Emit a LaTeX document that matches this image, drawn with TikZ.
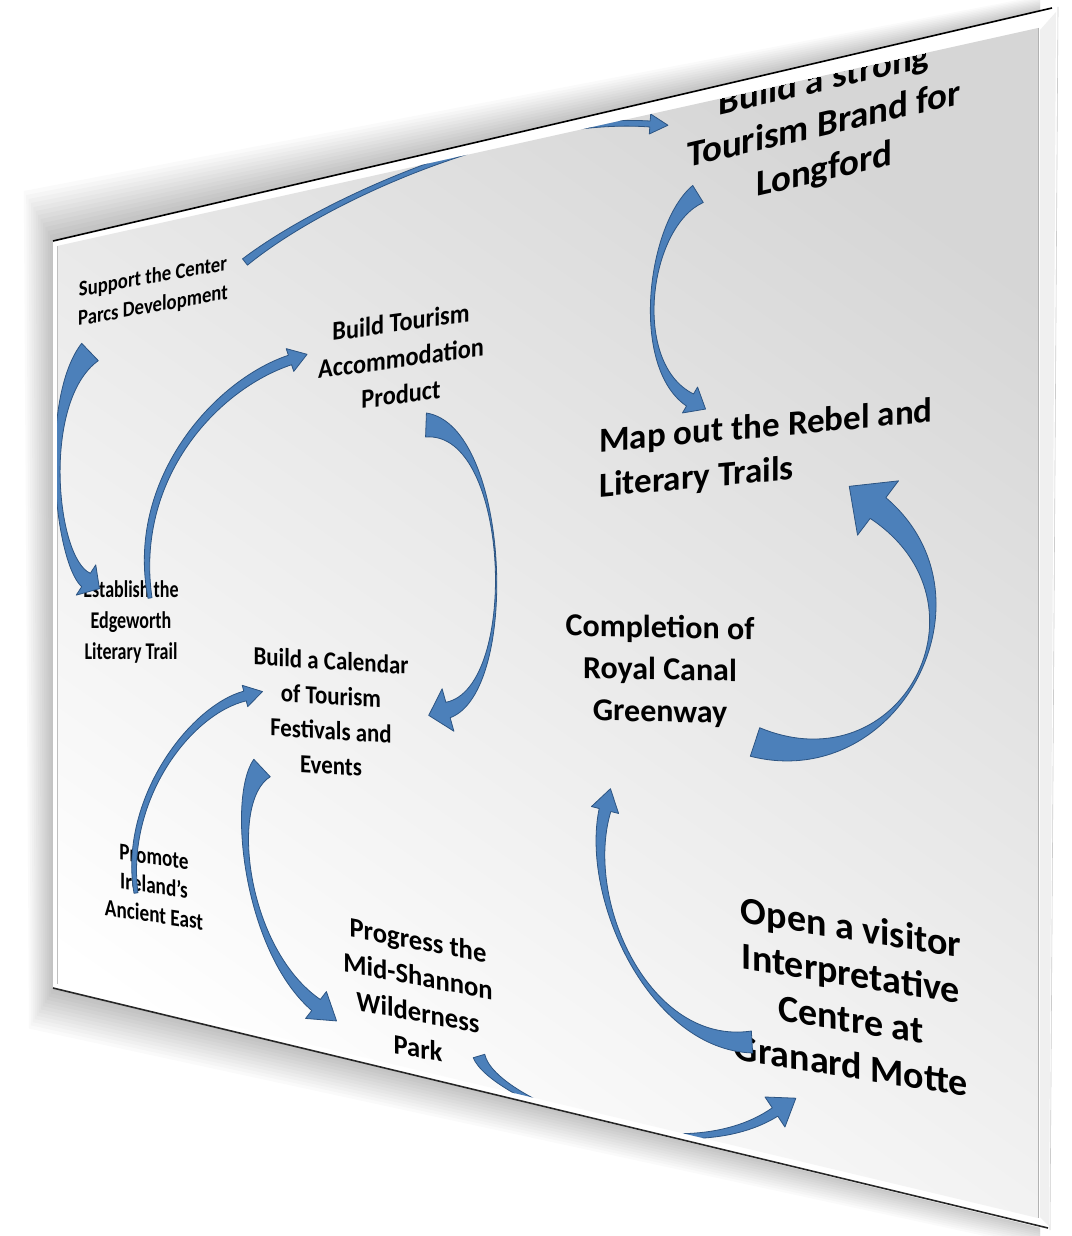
\documentclass[tikz,border=0pt]{standalone}
\usepackage{fontspec}
\setmainfont{Carlito}
\usetikzlibrary{calc}
\definecolor{arrowfill}{HTML}{4C80BA}
\definecolor{arrowline}{HTML}{2C5482}
\definecolor{slidegray}{HTML}{D6D6D6}
\definecolor{slidemid}{HTML}{E3E3E3}
\tikzset{
  lbl/.style={align=center, text=black, inner sep=0pt},
  blockarrow/.style={fill=arrowfill, draw=arrowline, line width=0.8pt, line join=round},
}
\newcommand{\bluearrow}[9]{%
  \path[blockarrow]
    ($(#1)!#5!90:(#2)$)
    .. controls ($(#2)!#6!-90:(#1)$) and ($(#3)!#6!90:(#4)$) ..
    ($(#4)!#7!-90:(#3)$) -- ($(#4)!#8!-90:(#3)$) -- ($(#4)!-#9!(#3)$)
    -- ($(#4)!#8!90:(#3)$) -- ($(#4)!#7!90:(#3)$)
    .. controls ($(#3)!#6!-90:(#4)$) and ($(#2)!#6!90:(#1)$) ..
    ($(#1)!#5!-90:(#2)$) -- cycle;}
\begin{document}
\begin{tikzpicture}[x=1pt,y=-1pt]
\useasboundingbox (0,0) rectangle (1071,1236);
\fill[white] (0,0) rectangle (1071,1236);
% shadow
\foreach \d in {52,48,...,0}{
  \fill[black,opacity=0.02] ({55-0.6*\d},{243-\d}) -- (1040,{14-0.35*\d}) -- (1040,{1222+0.5*\d}) -- ({55-0.5*\d},{987+0.8*\d}) -- cycle;
}
% frame
\fill[white] (53,241) -- (1058,7) -- (1050,1230) -- (53,988) -- cycle;
\fill[black!6] (1040,30) -- (1056,12) -- (1049,1226) -- (1040,1217) -- cycle;
\shade[top color=slidegray, middle color=slidemid, bottom color=white, shading angle=-35]
  (57,246) -- (1038,28) -- (1038,1218) -- (57,984) -- cycle;
\draw[black, line width=1.6pt] (53,241) -- (1052,8);
\draw[black!85, line width=1.6pt] (53,988) -- (1048,1228);
\draw[gray!60, line width=0.6pt] (1038,28) -- (1038,1218);
\draw[gray!40, line width=0.6pt] (1058,7) -- (1050,1230);
\draw[gray!50, line width=0.6pt] (57,246) -- (57,984);
\begin{scope}
\clip (57,246) -- (1038,28) -- (1038,1218) -- (57,984) -- cycle;
% labels
\node[lbl, yslant=0.18, xscale=0.85, font=\fontsize{22}{29}\selectfont\bfseries] (support) at (153,292) {Support the Center\\Parcs Development};
\node[lbl, yslant=0.23, font=\fontsize{37}{45}\selectfont\bfseries] (brand) at (824,126) {Build a strong\\Tourism Brand for\\Longford};
\node[lbl, yslant=0.14, xscale=0.9, font=\fontsize{27}{36}\selectfont\bfseries] (accom) at (401,358) {Build Tourism\\Accommodation\\Product};
\node[lbl, align=left, yslant=0.09, font=\fontsize{35}{45}\selectfont\bfseries] (rebel) at (766,450) {Map out the Rebel and\\Literary Trails};
\node[lbl, xscale=0.75, font=\fontsize{24}{31}\selectfont\bfseries] (edge) at (131,622) {Establish the\\Edgeworth\\Literary Trail};
\node[lbl, yslant=-0.02, font=\fontsize{32}{42}\selectfont\bfseries] (canal) at (660,671) {Completion of\\Royal Canal\\Greenway};
\node[lbl, yslant=-0.06, xscale=0.88, font=\fontsize{26}{35}\selectfont\bfseries] (calendar) at (331,713) {Build a Calendar\\of Tourism\\Festivals and\\Events};
\node[lbl, yslant=-0.15, xscale=0.8, font=\fontsize{24}{29}\selectfont\bfseries] (east) at (154,886) {Promote\\Ireland’s\\Ancient East};
\node[lbl, yslant=-0.19, xscale=0.95, font=\fontsize{28}{36}\selectfont\bfseries] (shannon) at (418,994) {Progress the\\Mid-Shannon\\Wilderness\\Park};
\node[lbl, yslant=-0.16, font=\fontsize{38}{46}\selectfont\bfseries] (motte) at (851,996) {Open a visitor\\Interpretative\\Centre at\\Granard Motte};
% arrows
\bluearrow{90,352}{40,400}{55,560}{86,580}{12pt}{2pt}{8pt}{18pt}{16pt}
\bluearrow{245,262}{330,195}{520,115}{650,124}{4pt}{2pt}{3pt}{10pt}{18pt}
\bluearrow{698,194}{648,225}{630,365}{690,400}{10pt}{2pt}{7pt}{15pt}{18pt}
\bluearrow{755,742}{900,790}{1000,600}{878,508}{15pt}{4pt}{13pt}{34pt}{36pt}
\bluearrow{426,425}{510,428}{520,690}{448,710}{12pt}{2pt}{8pt}{22pt}{20pt}
\bluearrow{150,598}{130,480}{215,385}{290,360}{2pt}{5pt}{5pt}{12pt}{18pt}
\bluearrow{136,893}{122,800}{190,710}{245,696}{2pt}{4pt}{5pt}{11pt}{18pt}
\bluearrow{262,768}{228,800}{245,950}{316,1005}{12pt}{2pt}{7pt}{17pt}{26pt}
\bluearrow{752,1042}{650,1048}{582,900}{605,810}{11pt}{2pt}{6pt}{14pt}{22pt}
\bluearrow{479,1056}{492,1100}{680,1175}{775,1112}{6pt}{2pt}{5pt}{18pt}{25pt}
\end{scope}
\end{tikzpicture}
\end{document}
